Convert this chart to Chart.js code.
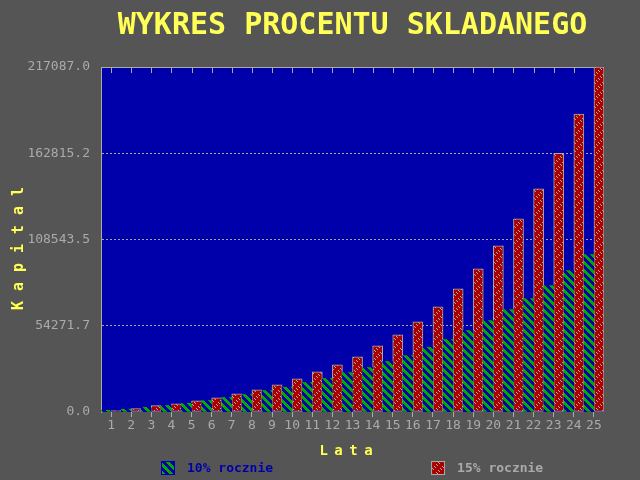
<!DOCTYPE html>
<html>
<head>
<meta charset="utf-8">
<script src="https://cdn.jsdelivr.net/npm/chart.js@4.4.1/dist/chart.umd.min.js"></script>
<style>
  html, body { margin: 0; padding: 0; background: #555555; }
  canvas { display: block; }
</style>
</head>
<body>
<canvas id="myChart" width="640" height="480"></canvas>
<script>
// data
const years = ['1','2','3','4','5','6','7','8','9','10','11','12','13',
               '14','15','16','17','18','19','20','21','22','23','24','25'];
const rate10 = [1100, 1800, 3000, 4100, 5500, 7200, 9100, 11000, 13500, 15600,
                18600, 21100, 24800, 28000, 31800, 35500, 40800, 45600, 51300, 57500,
                64500, 71400, 79600, 89000, 99100];
const rate15 = [1100, 2200, 4000, 5200, 7000, 8900, 11400, 14000, 17100, 20900,
                25300, 29700, 34700, 41600, 48600, 56700, 66200, 77500, 90100, 104500,
                121500, 140400, 162800, 187500, 217087];
const yTicks = [0, 54271.7, 108543.5, 162815.2, 217087.0];
const seriesNames = ['10% rocznie', '15% rocznie'];

const GRAY = '#AAAAAA';
const YELLOW = '#FFFF55';
const BLUE = '#0000AA';
const MONO = '"DejaVu Sans Mono", monospace';

const canvas = document.getElementById('myChart');
const ctx = canvas.getContext('2d');

// 8x8 BGI style fill patterns
function makePattern(fg, bg, rows) {
  const c = document.createElement('canvas');
  c.width = 8; c.height = 8;
  const g = c.getContext('2d');
  g.fillStyle = bg;
  g.fillRect(0, 0, 8, 8);
  g.fillStyle = fg;
  rows.forEach((bits, y) => {
    for (let x = 0; x < 8; x++) {
      if (bits & (0x80 >> x)) g.fillRect(x, y, 1, 1);
    }
  });
  return ctx.createPattern(c, 'repeat');
}
const greenFill = makePattern('#00AA00', BLUE, [0xF0, 0x78, 0x3C, 0x1E, 0x0F, 0x87, 0xC3, 0xE1]);
const redFill = makePattern(GRAY, '#AA0000', [0x08, 0x04, 0x20, 0x10, 0x80, 0x40, 0x02, 0x01]);

// letter spacing for the axis titles
const titleSpacing = { x: 6.5, y: 10 };
function spaceTitle(scale) {
  if (scale._spaced) return;
  scale._spaced = true;
  const orig = scale.drawTitle;
  scale.drawTitle = function () {
    const c = this.ctx;
    c.save();
    c.letterSpacing = titleSpacing[this.id] + 'px';
    if (this.id === 'x') c.translate(-titleSpacing.x / 2, 0);
    else c.translate(0, 4);
    orig.call(this);
    c.restore();
  };
}

const frame = {
  id: 'frame',
  beforeDraw(chart) {
    const { ctx, chartArea: a } = chart;
    ctx.save();
    ctx.fillStyle = '#555555';
    ctx.fillRect(0, 0, chart.width, chart.height);
    ctx.fillStyle = BLUE;
    ctx.fillRect(a.left, a.top, a.right - a.left, a.bottom - a.top);
    ctx.restore();
  },
  beforeDatasetsDraw(chart) {
    const { ctx, chartArea: a } = chart;
    const x = chart.scales.x;
    ctx.save();
    ctx.strokeStyle = GRAY;
    ctx.lineWidth = 1;
    ctx.beginPath();
    ctx.moveTo(a.left, a.top + 0.5);
    ctx.lineTo(a.right, a.top + 0.5);
    x.ticks.forEach((t, i) => {
      const px = Math.round(x.getPixelForTick(i)) + 0.5;
      ctx.moveTo(px, a.top);
      ctx.lineTo(px, a.top + 6);
    });
    ctx.stroke();
    ctx.restore();
  }
};

const legendRow = {
  id: 'legendRow',
  afterDraw(chart) {
    const { ctx, chartArea: a } = chart;
    const box = 14, gap = 12, spacing = 158;
    ctx.save();
    ctx.font = 'bold 13px ' + MONO;
    const items = chart.data.datasets.map(ds => ({ ds, w: box + gap + ctx.measureText(ds.label).width }));
    const total = items.reduce((s, it) => s + it.w, 0) + spacing * (items.length - 1);
    let x = Math.round((a.left + a.right - total) / 2);
    const y = chart.height - 19;
    items.forEach(({ ds, w }) => {
      ctx.fillStyle = ds.backgroundColor;
      ctx.fillRect(x, y, box, box);
      ctx.strokeStyle = ds.legendBorder;
      ctx.lineWidth = 1;
      ctx.strokeRect(x + 0.5, y + 0.5, box - 1, box - 1);
      ctx.fillStyle = ds.legendColor;
      ctx.textAlign = 'left';
      ctx.textBaseline = 'middle';
      ctx.fillText(ds.label, x + box + gap, y + box / 2 + 1);
      x += w + spacing;
    });
    ctx.restore();
  }
};

const myChart = new Chart(ctx, {
  type: 'bar',
  data: {
    labels: years,
    datasets: [{
      label: seriesNames[0],
      data: rate10,
      backgroundColor: greenFill,
      borderWidth: 0,
      legendBorder: BLUE,
      legendColor: BLUE
    }, {
      label: seriesNames[1],
      data: rate15,
      backgroundColor: redFill,
      borderColor: GRAY,
      borderWidth: 1,
      borderSkipped: false,
      legendBorder: GRAY,
      legendColor: GRAY
    }]
  },
  options: {
    responsive: false,
    animation: false,
    barPercentage: 1,
    categoryPercentage: 1,
    layout: { padding: { left: 0, right: 36, top: 0, bottom: 20 } },
    plugins: {
      legend: { display: false },
      tooltip: { enabled: false },
      title: {
        display: true,
        text: 'WYKRES PROCENTU SKLADANEGO',
        color: YELLOW,
        fullSize: false,
        font: { family: MONO, size: 30, weight: 'bold', lineHeight: 1.2 },
        padding: { top: 8, bottom: 23 }
      }
    },
    scales: {
      x: {
        offset: true,
        ticks: { color: GRAY, font: { family: MONO, size: 13 }, padding: 1, maxRotation: 0, autoSkip: false },
        grid: { offset: false, drawOnChartArea: false, drawTicks: true, tickLength: 5, tickColor: GRAY, color: GRAY },
        border: { display: false },
        title: {
          display: true,
          text: 'Lata',
          color: YELLOW,
          font: { family: MONO, size: 14, weight: 'bold', lineHeight: 1.2 },
          padding: { top: 0, bottom: 0 }
        },
        afterFit: s => { s.height = 48; spaceTitle(s); }
      },
      y: {
        min: 0,
        max: yTicks[yTicks.length - 1],
        afterBuildTicks: s => { s.ticks = yTicks.map(v => ({ value: v })); },
        ticks: {
          color: GRAY,
          font: { family: MONO, size: 13 },
          padding: 11,
          callback: v => Number(v).toFixed(1)
        },
        grid: {
          color: c => (c.index === 0 || c.index === yTicks.length - 1) ? 'transparent' : GRAY,
          drawTicks: false,
          lineWidth: 1
        },
        border: { display: true, color: GRAY, width: 1, dash: [2, 2] },
        title: {
          display: true,
          text: 'Kapital',
          color: YELLOW,
          font: { family: MONO, size: 15, weight: 'bold', lineHeight: 1.2 },
          padding: { top: 10, bottom: 0 }
        },
        afterFit: s => { s.width = 101; spaceTitle(s); }
      }
    }
  },
  plugins: [frame, legendRow]
});
</script>
</body>
</html>
